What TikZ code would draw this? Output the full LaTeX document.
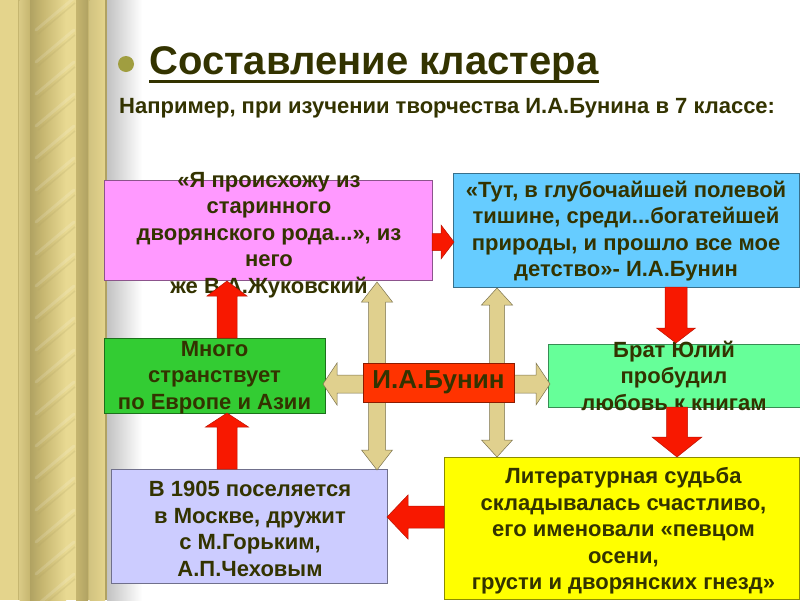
\documentclass[tikz,border=0pt]{standalone}
\usepackage{fontspec}
\setmainfont{Liberation Sans}
\usetikzlibrary{calc}
\definecolor{txt}{HTML}{333300}
\definecolor{pinkc}{HTML}{FF99FF}
\definecolor{bluec}{HTML}{66CCFF}
\definecolor{greenc}{HTML}{33CC33}
\definecolor{lgreenc}{HTML}{66FF99}
\definecolor{lavc}{HTML}{CCCCFF}
\definecolor{yelc}{HTML}{FFFF00}
\definecolor{redc}{HTML}{FF3300}
\definecolor{arrred}{HTML}{F81800}
\definecolor{tanc}{HTML}{E0D08E}
\definecolor{bulletc}{HTML}{A09E40}
\definecolor{goldA}{HTML}{E4D48C}
\definecolor{goldB}{HTML}{C6B670}
\definecolor{goldD}{HTML}{B0A262}
\definecolor{goldL}{HTML}{E8D992}

% single block arrow: style, from, to, shaft half width, head half width, head length
\newcommand\barrow[6]{%
  \draw[#1] let \p1=(#2), \p2=(#3), \n1={atan2(\y2-\y1,\x2-\x1)} in
    ($(\p1)+({\n1+90}:#4)$) -- ($(\p2)+({\n1+180}:#6)+({\n1+90}:#4)$)
    -- ($(\p2)+({\n1+180}:#6)+({\n1+90}:#5)$) -- (\p2)
    -- ($(\p2)+({\n1+180}:#6)+({\n1-90}:#5)$) -- ($(\p2)+({\n1+180}:#6)+({\n1-90}:#4)$)
    -- ($(\p1)+({\n1-90}:#4)$) -- cycle;}
% double block arrow
\newcommand\dbarrow[6]{%
  \draw[#1] let \p1=(#2), \p2=(#3), \n1={atan2(\y2-\y1,\x2-\x1)} in
    (\p1) -- ($(\p1)+({\n1}:#6)+({\n1+90}:#5)$) -- ($(\p1)+({\n1}:#6)+({\n1+90}:#4)$)
    -- ($(\p2)+({\n1+180}:#6)+({\n1+90}:#4)$) -- ($(\p2)+({\n1+180}:#6)+({\n1+90}:#5)$)
    -- (\p2) -- ($(\p2)+({\n1+180}:#6)+({\n1-90}:#5)$) -- ($(\p2)+({\n1+180}:#6)+({\n1-90}:#4)$)
    -- ($(\p1)+({\n1}:#6)+({\n1-90}:#4)$) -- ($(\p1)+({\n1}:#6)+({\n1-90}:#5)$) -- cycle;}

\begin{document}
\begin{tikzpicture}[x=1pt,y=-1pt,
  box/.style={draw=#1!55!black, fill=#1, line width=0.7pt, inner sep=0pt, outer sep=0pt},
  body/.style={text=txt, font=\fontsize{22}{26.5}\selectfont\bfseries, align=center, inner sep=0pt},
  redarrow/.style={fill=arrred, draw=arrred!75!black, line width=0.5pt},
  tanarrow/.style={fill=tanc, draw=tanc!55!black, line width=0.5pt}]
\useasboundingbox (0,0) rectangle (800,600);
\fill[white] (0,0) rectangle (800,600);

% decorative left stripe
\fill[goldA] (0,0) rectangle (107,600);
\fill[goldB] (18,0) rectangle (19.5,600);
\shade[left color=goldA!95!black, right color=goldB] (19.5,0) rectangle (30,600);
\shade[left color=goldD, right color=goldB] (30,0) rectangle (42,600);
\shade[left color=goldB, right color=goldL] (42,0) rectangle (66,600);
\fill[goldL] (66,0) rectangle (76,600);
\shade[left color=goldB, right color=goldD] (76,0) rectangle (88,600);
\fill[goldB] (88,0) rectangle (89.5,600);
\shade[left color=goldA!92!black, right color=goldA] (89.5,0) rectangle (105,600);
\fill[goldD] (105,0) rectangle (107,600);
\foreach \k in {0,...,19}{
  \draw[white, opacity=0.14, line width=3pt, line cap=round] (36,{30+32*\k}) -- (74,{-2+32*\k});
  \draw[goldD, opacity=0.2, line width=1.5pt] (38,{34+32*\k}) -- (75,{3+32*\k});
}
\shade[left color=black!24, right color=white] (107,0) rectangle (142,600);

% title
\node[circle, fill=bulletc, minimum size=16pt, inner sep=0pt] (bullet) at (126,64) {};
\node[anchor=base west, inner sep=0pt, text=txt, font=\fontsize{40}{48}\selectfont\bfseries] (title) at (149,74) {Составление кластера};
\draw[txt, line width=3pt] ($(title.base west)+(0,7)$) -- ($(title.base east)+(0,7)$);
\node[anchor=base west, inner sep=0pt, text=txt, font=\fontsize{22}{26}\selectfont\bfseries] (sub) at (119,113) {Например, при изучении творчества И.А.Бунина в 7 классе:};

% boxes
\node[box=pinkc, minimum width=328pt, minimum height=100pt] (pink) at (268,230) {};
\node[box=bluec, minimum width=346pt, minimum height=114pt] (blue) at (626,230) {};
\node[box=greenc, minimum width=221pt, minimum height=75pt] (green) at (214.5,375.5) {};
\node[box=lgreenc, minimum width=252pt, minimum height=63pt] (lgreen) at (674,375.5) {};
\node[box=lavc, minimum width=276pt, minimum height=114pt] (lav) at (249,526) {};
\node[box=yelc, minimum width=355pt, minimum height=142pt] (yel) at (621.5,528) {};

% texts
\node[body] (pinkt) at ($(pink.center)+(1,5)$) {«Я происхожу из\\старинного\\дворянского рода...», из\\него\\же В.А.Жуковский};
\node[body] (bluet) at ($(blue.center)+(0,1)$) {«Тут, в глубочайшей полевой\\тишине, среди...богатейшей\\природы, и прошло все мое\\детство»- И.А.Бунин};
\node[body] (greent) at ($(green.center)+(0,2)$) {Много\\странствует\\по Европе и Азии};
\node[body] (lgreent) at (lgreen.center) {Брат Юлий\\пробудил\\любовь к книгам};
\node[body] (lavt) at ($(lav.center)+(1,3)$) {В 1905 поселяется\\в Москве, дружит\\с М.Горьким,\\А.П.Чеховым};
\node[body] (yelt) at ($(yel.center)+(2,3)$) {Литературная судьба\\складывалась счастливо,\\его именовали «певцом\\осени,\\грусти и дворянских гнезд»};

% red arrows
\barrow{redarrow}{$(pink.east)+(0,12)$}{$(blue.west)+(1,12)$}{8.5pt}{17pt}{13pt}
\barrow{redarrow}{$(blue.south)+(50,0)$}{$(lgreen.north)+(2,-1)$}{11pt}{19.5pt}{15pt}
\barrow{redarrow}{$(lgreen.south)+(3,0)$}{$(yel.north)+(55.5,0)$}{10.5pt}{25pt}{20pt}
\barrow{redarrow}{$(yel.west)+(0,-11)$}{$(lav.east)+(0,-9)$}{11pt}{22pt}{21pt}
\barrow{redarrow}{$(lav.north)+(-22,0)$}{$(green.south)+(12.5,0)$}{10pt}{21.5pt}{14pt}
\barrow{redarrow}{$(green.north)+(12.5,0)$}{$(pink.south)+(-41,1)$}{10pt}{20pt}{15pt}

% tan double arrows
\dbarrow{tanarrow}{$(pink.south)+(109,2)$}{$(lav.north)+(128,1)$}{8.5pt}{15.5pt}{20pt}
\dbarrow{tanarrow}{$(blue.south)+(-129,1)$}{$(yel.north)+(-124.5,0)$}{7.5pt}{15.5pt}{17pt}
\dbarrow{tanarrow}{$(green.east)+(-2,8.5)$}{$(lgreen.west)+(2,8.5)$}{9pt}{21pt}{14pt}

% centre node
\node[box=redc, minimum width=151pt, minimum height=39pt, text=txt, font=\fontsize{26}{30}\selectfont\bfseries] (bunin) at (438.5,382.5) {И.А.Бунин};
\end{tikzpicture}
\end{document}
